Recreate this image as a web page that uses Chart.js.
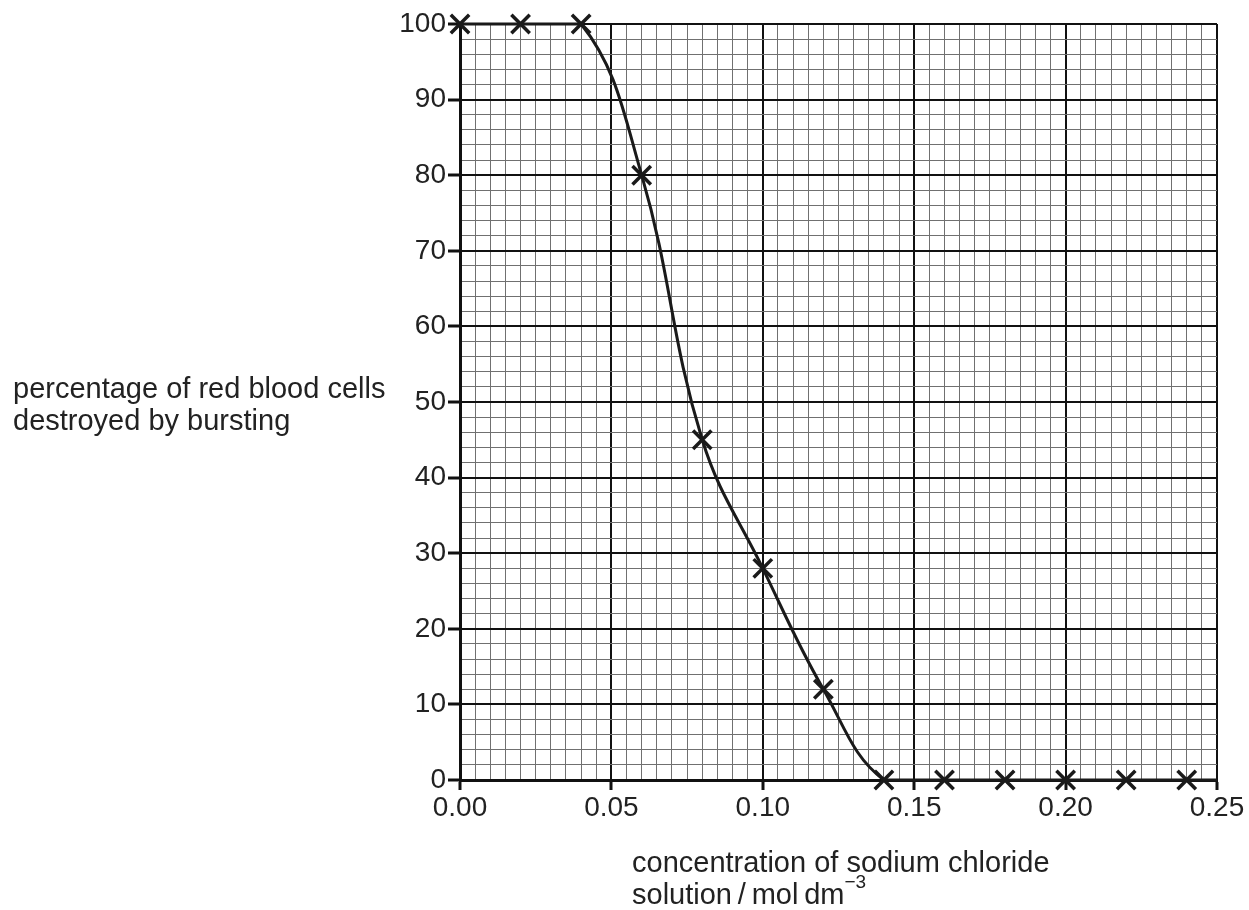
<!DOCTYPE html>
<html>
<head>
<meta charset="utf-8">
<title>Red blood cells destroyed by bursting</title>
<script src="https://cdn.jsdelivr.net/npm/chart.js@4.4.1/dist/chart.umd.min.js"></script>
<style>
    html, body { margin: 0; padding: 0; background: #fff; }
    #wrap { position: relative; width: 1249px; height: 910px; }
    #chart { position: absolute; left: 0; top: 0; }
    .axis-title {
        position: absolute;
        font-family: "Liberation Sans", Arial, sans-serif;
        font-size: 29px;
        line-height: 32px;
        color: #222;
        white-space: nowrap;
    }
    .axis-title sup { font-size: 19px; line-height: 0; position: relative; top: -5px; vertical-align: super; }
</style>
</head>
<body>
<div id="wrap">
    <canvas id="chart" width="1249" height="910"></canvas>
    <div class="axis-title" style="left:13px; top:372px;">percentage of red blood cells<br>destroyed by bursting</div>
    <div class="axis-title" style="left:632px; top:846px;">concentration of sodium chloride<br>solution&#8201;/&#8201;mol&#8201;dm<sup>&minus;3</sup></div>
</div>
<script>
// Measured points (crosses)
const concentration = [0, 0.02, 0.04, 0.06, 0.08, 0.10, 0.12, 0.14, 0.16, 0.18, 0.20, 0.22, 0.24];
const percentDestroyed = [100, 100, 100, 80, 45, 28, 12, 0, 0, 0, 0, 0, 0];

// Curve of best fit, runs on to the edge of the grid
const curveConcentration = [0, 0.02, 0.04, 0.06, 0.08, 0.10, 0.12, 0.14, 0.16, 0.18, 0.20, 0.22, 0.24, 0.25];
const curvePercent = [100, 100, 100, 80, 45, 28, 12, 0, 0, 0, 0, 0, 0, 0];

// Axis ranges and labelled ticks
const xMin = 0, xMax = 0.25, xMinorStep = 0.005, xMajorStep = 0.05;
const yMin = 0, yMax = 100, yMinorStep = 2, yMajorStep = 10;

const MAJOR = '#111';
const MINOR = '#707070';
const FONT = { family: '"Liberation Sans", Arial, sans-serif', size: 28 };

function isMajor(value, step) {
    const r = value / step;
    return Math.abs(r - Math.round(r)) < 1e-6;
}

const ctx = document.getElementById('chart').getContext('2d');

new Chart(ctx, {
    type: 'scatter',
    data: {
        datasets: [
            {
                // smooth curve; control points are capped to the grid so it never goes past 0 or 100
                type: 'line',
                data: curveConcentration.map((x, i) => ({ x: x, y: curvePercent[i] })),
                borderColor: '#1a1a1a',
                borderWidth: 3,
                pointRadius: 0,
                tension: 0.4,
                capBezierPoints: true,
                fill: false,
                clip: false
            },
            {
                data: concentration.map((x, i) => ({ x: x, y: percentDestroyed[i] })),
                pointStyle: 'crossRot',
                pointRadius: 13,
                borderColor: '#1a1a1a',
                backgroundColor: '#1a1a1a',
                pointBorderWidth: 3.5,
                showLine: false,
                clip: false
            }
        ]
    },
    options: {
        responsive: false,
        animation: false,
        layout: { padding: { top: 24, right: 32, left: 0, bottom: 0 } },
        plugins: {
            legend: { display: false },
            tooltip: { enabled: false }
        },
        scales: {
            x: {
                type: 'linear',
                min: xMin,
                max: xMax,
                afterFit: scale => { scale.height = 130; },
                border: { display: true, color: MAJOR, width: 3 },
                grid: {
                    color: c => isMajor(c.tick.value, xMajorStep) ? MAJOR : MINOR,
                    lineWidth: c => isMajor(c.tick.value, xMajorStep) ? 2 : 1,
                    tickColor: c => isMajor(c.tick.value, xMajorStep) ? MAJOR : 'rgba(0,0,0,0)',
                    tickLength: 10,
                    tickWidth: 3
                },
                ticks: {
                    stepSize: xMinorStep,
                    autoSkip: false,
                    maxRotation: 0,
                    padding: 1,
                    color: '#222',
                    font: FONT,
                    callback: v => isMajor(v, xMajorStep) ? v.toFixed(2) : ''
                }
            },
            y: {
                type: 'linear',
                min: yMin,
                max: yMax,
                afterFit: scale => { scale.width = 460; },
                border: { display: true, color: MAJOR, width: 3 },
                grid: {
                    color: c => isMajor(c.tick.value, yMajorStep) ? MAJOR : MINOR,
                    lineWidth: c => isMajor(c.tick.value, yMajorStep) ? 2 : 1,
                    tickColor: c => isMajor(c.tick.value, yMajorStep) ? MAJOR : 'rgba(0,0,0,0)',
                    tickLength: 12,
                    tickWidth: 3
                },
                ticks: {
                    stepSize: yMinorStep,
                    autoSkip: false,
                    padding: 2,
                    color: '#222',
                    font: FONT,
                    callback: v => isMajor(v, yMajorStep) ? String(v) : ''
                }
            }
        }
    }
});
</script>
</body>
</html>
